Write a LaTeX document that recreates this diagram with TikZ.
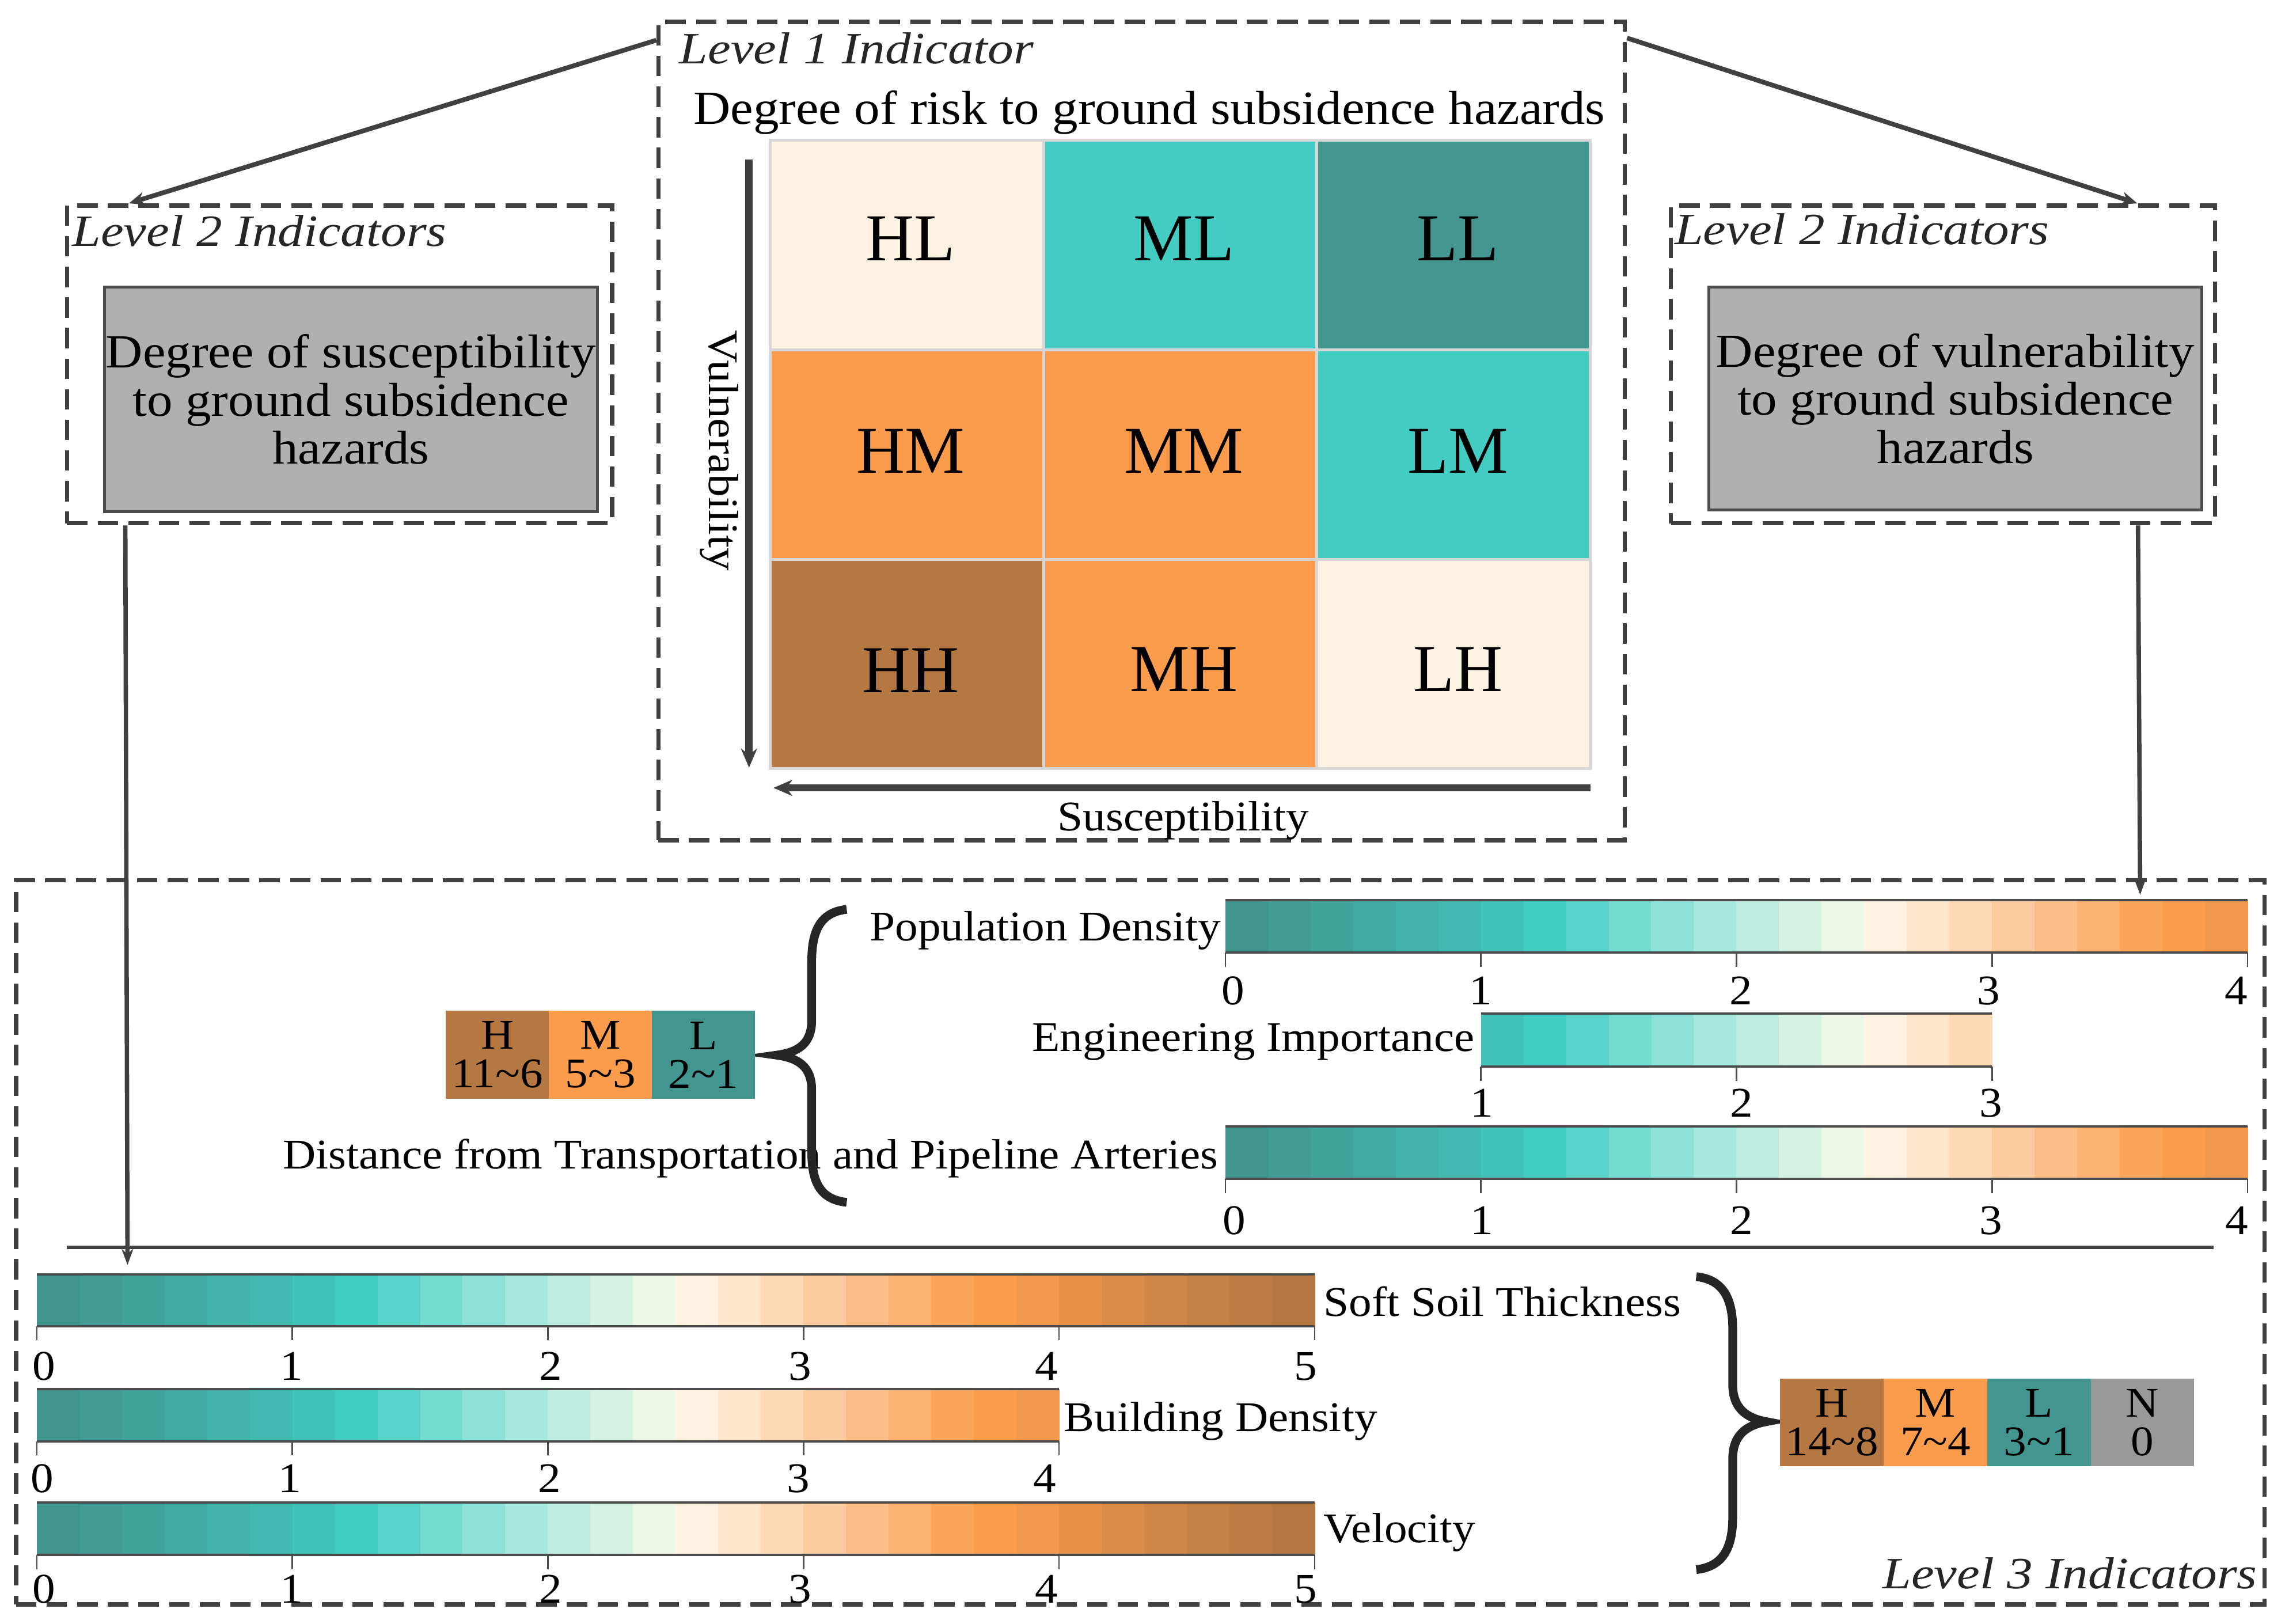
\documentclass[tikz,border=0pt]{standalone}
\usepackage{fontspec}
\setmainfont{Liberation Serif}[FakeStretch=1.08]
\newfontfamily\itfont{Liberation Serif}[FakeStretch=1.15]
\newfontfamily\cellfont{Liberation Serif}
\usetikzlibrary{arrows.meta,calc}

\definecolor{dgray}{RGB}{64,64,64}
\definecolor{cream}{RGB}{253,241,226}
\definecolor{turq}{RGB}{66,204,194}
\definecolor{dteal}{RGB}{66,150,143}
\definecolor{orng}{RGB}{250,156,75}
\definecolor{brwn}{RGB}{182,120,66}
\definecolor{boxgray}{RGB}{176,176,176}
\definecolor{ngray}{RGB}{153,153,153}
\definecolor{gridgray}{RGB}{215,215,215}

\def\cblist{1/65/148/141,2/66/155/148,3/66/163/155,4/66/170/162,5/66/178/170,6/66/186/178,7/66/195/186,8/66/205/196,9/90/212/203,10/115/220/208,11/140/226/214,12/166/232/220,13/190/236/224,14/214/242/228,15/238/246/234,16/254/243/227,17/254/230/204,18/253/217/181,19/253/204/158,20/252/190/135,21/251/177/112,22/251/166/92,23/250/156/75,24/240/152/78,25/230/146/75,26/218/140/72,27/207/134/70,28/197/128/68,29/189/124/66,30/181/120/65}
\def\sw{29.23}

\newcommand\colbar[5]{%
  \foreach \i/\r/\g/\b in \cblist {%
    \ifnum\i<#3\relax\else\ifnum\i>#4\relax\else
      \fill[fill={rgb,255:red,\r;green,\g;blue,\b}] ({#1+(\i-#3)*\sw},#2) rectangle ({#1+(\i-#3+1)*\sw+0.4},{#2+#5});
    \fi\fi
  }%
  \pgfmathsetmacro\barlen{(#4-#3+1)*\sw}%
  \draw[barline] (#1,#2) -- ++(\barlen,0);
  \draw[barline] (#1,{#2+#5}) -- ++(\barlen,0);
}

\begin{document}
\begin{tikzpicture}[x=1pt,y=-1pt,
  dashbox/.style={draw=dgray, line width=3pt, dash pattern=on 14pt off 7pt, inner sep=0pt},
  graybox/.style={draw=black!70, line width=2pt, fill=boxgray, inner sep=0pt, align=center, font=\fontsize{32.6}{33}\selectfont},
  cell/.style={draw=gridgray, line width=2pt, minimum width=187.6pt, minimum height=143.7pt, inner sep=0pt},
  celltext/.style={inner sep=0pt, font=\cellfont\fontsize{46}{48}\selectfont},
  lvl/.style={font=\itfont\itshape\fontsize{30.7}{32}\selectfont, text=black!85, inner sep=0pt},
  hdr/.style={font=\fontsize{32.6}{33}\selectfont, inner sep=0pt},
  lab/.style={font=\fontsize{29}{30}\selectfont, inner sep=0pt},
  tlab/.style={font=\fontsize{29}{30}\selectfont, inner sep=0pt, anchor=base},
  barline/.style={draw=black!70, line width=1.6pt},
  tickline/.style={draw=black!70, line width=1pt},
  link/.style={draw=dgray, line width=3.2pt, -{Stealth[length=11pt,width=9pt]}},
  vlink/.style={draw=dgray, line width=3pt, -{Stealth[length=11pt,width=8pt]}},
  axisarrow/.style={draw=dgray, line width=5pt, -{Stealth[length=13pt,width=11pt]}},
  brace/.style={draw=black!85, line width=6pt},
  legc/.style={minimum width=70.7pt, minimum height=60.5pt, inner sep=0pt, align=center, font=\fontsize{29}{26.5}\selectfont}
]
\useasboundingbox (0,0) rectangle (1568,1114);
\fill[white] (0,0) rectangle (1568,1114);

% ---------- Level 1 ----------
\node[dashbox, minimum width=663.2pt, minimum height=561.4pt] (l1) at (783.4,295.8) {};
\node[lvl, anchor=base west] (t1) at (466,43.5) {Level 1 Indicator};
\node[hdr, anchor=base] (t1b) at (788.7,85) {Degree of risk to ground subsidence hazards};

\node[cell, fill=cream] (hl) at (622.3,168.25) {};
\node[cell, fill=turq]  (ml) at (809.9,168.25) {};
\node[cell, fill=dteal] (ll) at (997.5,168.25) {};
\node[cell, fill=orng]  (hm) at (622.3,311.95) {};
\node[cell, fill=orng]  (mm) at (809.9,311.95) {};
\node[cell, fill=turq]  (lm) at (997.5,311.95) {};
\node[cell, fill=brwn]  (hh) at (622.3,455.65) {};
\node[cell, fill=orng]  (mh) at (809.9,455.65) {};
\node[cell, fill=cream] (lh) at (997.5,455.65) {};
\node[celltext] (hlt) at ($(hl)+(2.5,-4.5)$) {HL};
\node[celltext] (mlt) at ($(ml)+(2.5,-4.5)$) {ML};
\node[celltext] (llt) at ($(ll)+(3,-4.5)$) {LL};
\node[celltext] (hmt) at ($(hm)+(2.5,-2.5)$) {HM};
\node[celltext] (mmt) at ($(mm)+(2.5,-2.5)$) {MM};
\node[celltext] (lmt) at ($(lm)+(3,-2.5)$) {LM};
\node[celltext] (hht) at ($(hh)+(2.5,4.5)$) {HH};
\node[celltext] (mht) at ($(mh)+(2.5,3.5)$) {MH};
\node[celltext] (lht) at ($(lh)+(3,3.5)$) {LH};

\coordinate (vtop) at (514,109.6);
\coordinate (vbot) at (514,526.7);
\draw[axisarrow] (vtop) -- (vbot);
\node[lab, rotate=-90] (vlab) at (493.6,309) {Vulnerability};
\coordinate (sright) at (1091.4,540.6);
\coordinate (sleft) at (530.7,540.6);
\draw[axisarrow] (sright) -- (sleft);
\node[lab, anchor=base] (slab) at (812,570) {Susceptibility};

% ---------- Level 2 ----------
\node[dashbox, minimum width=374pt, minimum height=218pt] (l2a) at (233,250) {};
\node[dashbox, minimum width=373.4pt, minimum height=218pt] (l2b) at (1333.3,250) {};
\node[lvl, anchor=base west] (t2a) at (49.4,169) {Level 2 Indicators};
\node[lvl, anchor=base west] (t2b) at (1149,167.7) {Level 2 Indicators};
\node[graybox, minimum width=338.4pt, minimum height=154pt] (ga) at (240.8,274) {Degree of susceptibility\\to ground subsidence\\hazards};
\node[graybox, minimum width=338.4pt, minimum height=153pt] (gb) at (1341.8,273.5) {Degree of vulnerability\\to ground subsidence\\hazards};

% ---------- Level 3 ----------
\node[dashbox, minimum width=1543pt, minimum height=497pt] (l3) at (782.5,852.5) {};
\node[lvl, anchor=base east] (t3) at (1549,1090) {Level 3 Indicators};

% top colour bars
\colbar{840.8}{617.6}{1}{24}{36}
\colbar{1016.2}{695.5}{7}{18}{36.5}
\colbar{840.8}{773}{1}{24}{36}
\foreach \k in {0,...,4} {
  \draw[tickline] ({840.8+\k*6*\sw},653.6) -- ++(0,9.7);
  \draw[tickline] ({840.8+\k*6*\sw},809) -- ++(0,9.7);
}
\foreach \k in {1,...,3} \draw[tickline] ({840.8+\k*6*\sw},732) -- ++(0,9.7);

\foreach \x/\t in {846/0,1016/1,1194.5/2,1364.5/3,1534.5/4} \node[tlab] (pd\t) at (\x,689.5) {\t};
\foreach \x/\t in {1017/1,1195/2,1366/3} \node[tlab] (ei\t) at (\x,766.5) {\t};
\foreach \x/\t in {847/0,1017/1,1195/2,1366/3,1535/4} \node[tlab] (dt\t) at (\x,847) {\t};

\node[lab, anchor=base east] (lpd) at (838,645.6) {Population Density};
\node[lab, anchor=base east] (lei) at (1012,721.5) {Engineering Importance};
\node[lab, anchor=base east] (ldt) at (836,802) {Distance from Transportation and Pipeline Arteries};

\draw[brace] (581,624) .. controls (562,626) and (557,640) .. (557,660) -- (557,700)
  .. controls (557,716) and (548,722) .. (533,724) .. controls (548,726) and (557,732) .. (557,748)
  -- (557,790) .. controls (557,810) and (562,823) .. (581,825);

\node[legc, fill=brwn]  (ah) at (341.3,723.75) {H\\11\textasciitilde6};
\node[legc, fill=orng]  (am) at (412.0,723.75) {M\\5\textasciitilde3};
\node[legc, fill=dteal] (al) at (482.7,723.75) {L\\2\textasciitilde1};

% separator
\draw[draw=dgray, line width=2.2pt] (46,856) -- (1519,856);

% bottom colour bars
\colbar{25.2}{874.5}{1}{30}{35.5}
\colbar{25.2}{953}{1}{24}{36}
\colbar{25.2}{1031}{1}{30}{36}
\foreach \k in {0,...,5} {
  \draw[tickline] ({25.2+\k*6*\sw},910) -- ++(0,9.7);
  \draw[tickline] ({25.2+\k*6*\sw},1067) -- ++(0,9.7);
}
\foreach \k in {0,...,4} \draw[tickline] ({25.2+\k*6*\sw},989) -- ++(0,9.7);

\foreach \x/\t in {30/0,200/1,378/2,549/3,718/4,896/5} \node[tlab] (ss\t) at (\x,947) {\t};
\foreach \x/\t in {29/0,199/1,377/2,548/3,717/4} \node[tlab] (bd\t) at (\x,1024) {\t};
\foreach \x/\t in {30/0,200/1,378/2,549/3,718/4,896/5} \node[tlab] (ve\t) at (\x,1100) {\t};

\node[lab, anchor=base west] (lss) at (908,903) {Soft Soil Thickness};
\node[lab, anchor=base west] (lbd) at (730,982) {Building Density};
\node[lab, anchor=base west] (lve) at (908,1058.6) {Velocity};

\draw[brace] (1164,876) .. controls (1183,878) and (1189,892) .. (1189,912) -- (1189,950)
  .. controls (1189,966) and (1198,973) .. (1212,975.5) .. controls (1198,978) and (1189,985) .. (1189,1001)
  -- (1189,1041) .. controls (1189,1061) and (1183,1075) .. (1164,1077);

\node[legc, minimum width=71pt, minimum height=60pt, fill=brwn]  (bh) at (1257.1,976) {H\\14\textasciitilde8};
\node[legc, minimum width=71pt, minimum height=60pt, fill=orng]  (bm) at (1328.2,976) {M\\7\textasciitilde4};
\node[legc, minimum width=71pt, minimum height=60pt, fill=dteal] (bl) at (1399.2,976) {L\\3\textasciitilde1};
\node[legc, minimum width=71pt, minimum height=60pt, fill=ngray] (bn) at (1470.2,976) {N\\0};

% ---------- connectors ----------
\draw[link] ($(l1.north west)+(0,14)$) -- ($(l2a.north west)+(44,0)$);
\draw[link] ($(l1.north east)+(0,12.5)$) -- ($(l2b.north west)+(321.5,0)$);
\coordinate (aend) at (87.5,868);
\coordinate (bend) at (1468.6,614);
\draw[vlink] ($(l2a.south west)+(41.5,0)$) -- (aend);
\draw[vlink] ($(l2b.south west)+(322,0)$) -- (bend);
\end{tikzpicture}
\end{document}
